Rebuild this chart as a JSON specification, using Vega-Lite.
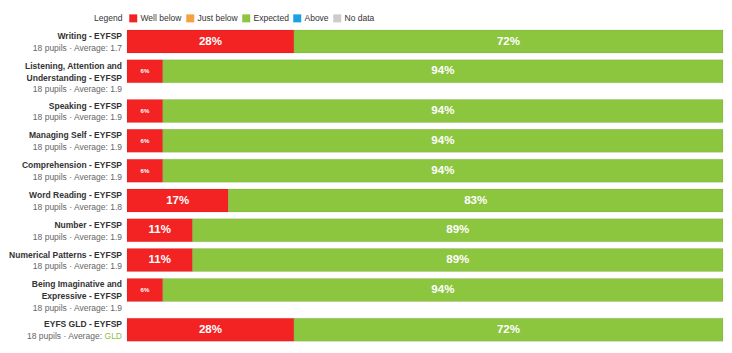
{
  "$schema": "https://vega.github.io/schema/vega-lite/v6.json",
  "autosize": {"type": "none"},
  "width": 596,
  "height": 318,
  "padding": {"left": 127, "top": 30, "right": 9, "bottom": 5},
  "background": "white",
  "config": {"view": {"stroke": null}, "font": "Liberation Sans"},
  "datasets": {
    "rows": [
      {"cat": "Writing", "title": "Writing - EYFSP", "pupils": 18, "avg": "1.7"},
      {"cat": "Listening", "title": "Listening, Attention and|Understanding - EYFSP", "pupils": 18, "avg": "1.9"},
      {"cat": "Speaking", "title": "Speaking - EYFSP", "pupils": 18, "avg": "1.9"},
      {"cat": "Managing", "title": "Managing Self - EYFSP", "pupils": 18, "avg": "1.9"},
      {"cat": "Comprehension", "title": "Comprehension - EYFSP", "pupils": 18, "avg": "1.9"},
      {"cat": "WordReading", "title": "Word Reading - EYFSP", "pupils": 18, "avg": "1.8"},
      {"cat": "Number", "title": "Number - EYFSP", "pupils": 18, "avg": "1.9"},
      {"cat": "NumPatterns", "title": "Numerical Patterns - EYFSP", "pupils": 18, "avg": "1.9"},
      {"cat": "Imaginative", "title": "Being Imaginative and|Expressive - EYFSP", "pupils": 18, "avg": "1.9"},
      {"cat": "GLD", "title": "EYFS GLD - EYFSP", "pupils": 18, "avg": "GLD"}
    ],
    "segments": [
      {"cat": "Writing", "level": "Well below", "pct": 28},
      {"cat": "Writing", "level": "Expected", "pct": 72},
      {"cat": "Listening", "level": "Well below", "pct": 6},
      {"cat": "Listening", "level": "Expected", "pct": 94},
      {"cat": "Speaking", "level": "Well below", "pct": 6},
      {"cat": "Speaking", "level": "Expected", "pct": 94},
      {"cat": "Managing", "level": "Well below", "pct": 6},
      {"cat": "Managing", "level": "Expected", "pct": 94},
      {"cat": "Comprehension", "level": "Well below", "pct": 6},
      {"cat": "Comprehension", "level": "Expected", "pct": 94},
      {"cat": "WordReading", "level": "Well below", "pct": 17},
      {"cat": "WordReading", "level": "Expected", "pct": 83},
      {"cat": "Number", "level": "Well below", "pct": 11},
      {"cat": "Number", "level": "Expected", "pct": 89},
      {"cat": "NumPatterns", "level": "Well below", "pct": 11},
      {"cat": "NumPatterns", "level": "Expected", "pct": 89},
      {"cat": "Imaginative", "level": "Well below", "pct": 6},
      {"cat": "Imaginative", "level": "Expected", "pct": 94},
      {"cat": "GLD", "level": "Well below", "pct": 28},
      {"cat": "GLD", "level": "Expected", "pct": 72}
    ]
  },
  "layer": [
    {
      "data": {"name": "segments"},
      "transform": [
        {"stack": "pct", "groupby": ["cat"], "sort": [{"field": "level", "order": "descending"}], "as": ["x0", "x1"]}
      ],
      "mark": {"type": "bar", "height": 23, "yOffset": 6.5, "stroke": "#000", "strokeOpacity": 0.08, "strokeWidth": 1},
      "encoding": {
        "y": {"field": "cat", "type": "nominal", "axis": null, "scale": {"domain": ["Writing", "gap_w1", "gap_w2", "Listening", "gap_l1", "gap_l2", "gap_l3", "Speaking", "gap_s1", "gap_s2", "Managing", "gap_m1", "gap_m2", "Comprehension", "gap_c1", "gap_c2", "WordReading", "gap_r1", "gap_r2", "Number", "gap_n1", "gap_n2", "NumPatterns", "gap_p1", "gap_p2", "Imaginative", "gap_i1", "gap_i2", "gap_i3", "GLD", "gap_g1", "gap_g2"], "paddingInner": 0, "paddingOuter": 0}},
        "x": {"field": "x0", "type": "quantitative", "axis": null, "scale": {"domain": [0, 100], "nice": false}},
        "x2": {"field": "x1"},
        "color": {
          "field": "level", "type": "nominal",
          "scale": {"domain": ["Well below", "Just below", "Expected", "Above", "No data"], "range": ["#f42323", "#f5a142", "#8cc63f", "#1ba1e2", "#cccccc"]},
          "legend": {"orient": "none", "legendX": -33, "legendY": -16, "direction": "horizontal", "title": "Legend", "titleOrient": "left", "titleAngle": 0, "titleFontWeight": "normal", "titleFontSize": 8.5, "titleColor": "#333", "titlePadding": 6, "titleBaseline": "middle", "labelFontSize": 8.5, "labelColor": "#333", "symbolType": "square", "symbolSize": 64, "symbolStrokeWidth": 0, "symbolOpacity": 1, "labelOffset": 3, "columnPadding": 4}
        }
      }
    },
    {
      "data": {"name": "segments"},
      "transform": [
        {"stack": "pct", "groupby": ["cat"], "sort": [{"field": "level", "order": "descending"}], "as": ["x0", "x1"]},
        {"calculate": "(datum.x0 + datum.x1) / 2", "as": "mid"},
        {"calculate": "datum.pct + '%'", "as": "lbl"}
      ],
      "mark": {"type": "text", "color": "white", "fontWeight": "bold", "baseline": "middle", "align": "center", "dy": 11.5},
      "encoding": {
        "y": {"field": "cat", "type": "nominal", "bandPosition": 0},
        "x": {"field": "mid", "type": "quantitative"},
        "text": {"field": "lbl"},
        "size": {"condition": {"test": "datum.pct < 10", "value": 6}, "value": 11.5}
      }
    },
    {
      "data": {"name": "rows"},
      "mark": {"type": "text", "align": "right", "baseline": "top", "dx": -5, "dy": 2, "fontWeight": "bold", "fontSize": 8.5, "color": "#333", "lineBreak": "|", "lineHeight": 11.8},
      "encoding": {
        "y": {"field": "cat", "type": "nominal", "bandPosition": 0},
        "x": {"datum": 0, "type": "quantitative"},
        "text": {"field": "title"}
      }
    },
    {
      "data": {"name": "rows"},
      "transform": [
        {"filter": "datum.avg != 'GLD'"},
        {"calculate": "replace(datum.title, regexp('[^|]+', 'g'), '\u200b') + '|' + datum.pupils + ' pupils · Average: ' + datum.avg", "as": "sub"}
      ],
      "mark": {"type": "text", "align": "right", "baseline": "top", "dx": -5, "dy": 2, "fontSize": 8.5, "color": "#666", "lineBreak": "|", "lineHeight": 11.8},
      "encoding": {
        "y": {"field": "cat", "type": "nominal", "bandPosition": 0},
        "x": {"datum": 0, "type": "quantitative"},
        "text": {"field": "sub"}
      }
    },
    {
      "data": {"name": "rows"},
      "transform": [
        {"filter": "datum.avg == 'GLD'"},
        {"calculate": "replace(datum.title, regexp('[^|]+', 'g'), '\u200b') + '|' + datum.pupils + ' pupils · Average:'", "as": "sub"}
      ],
      "mark": {"type": "text", "align": "right", "baseline": "top", "dx": -25, "dy": 2, "fontSize": 8.5, "color": "#666", "lineBreak": "|", "lineHeight": 11.8},
      "encoding": {
        "y": {"field": "cat", "type": "nominal", "bandPosition": 0},
        "x": {"datum": 0, "type": "quantitative"},
        "text": {"field": "sub"}
      }
    },
    {
      "data": {"name": "rows"},
      "transform": [
        {"filter": "datum.avg == 'GLD'"},
        {"calculate": "replace(datum.title, regexp('[^|]+', 'g'), '\u200b') + '|' + datum.avg", "as": "sub"}
      ],
      "mark": {"type": "text", "align": "right", "baseline": "top", "dx": -5, "dy": 2, "fontSize": 8.5, "color": "#8cbf3f", "lineBreak": "|", "lineHeight": 11.8},
      "encoding": {
        "y": {"field": "cat", "type": "nominal", "bandPosition": 0},
        "x": {"datum": 0, "type": "quantitative"},
        "text": {"field": "sub"}
      }
    }
  ]
}
